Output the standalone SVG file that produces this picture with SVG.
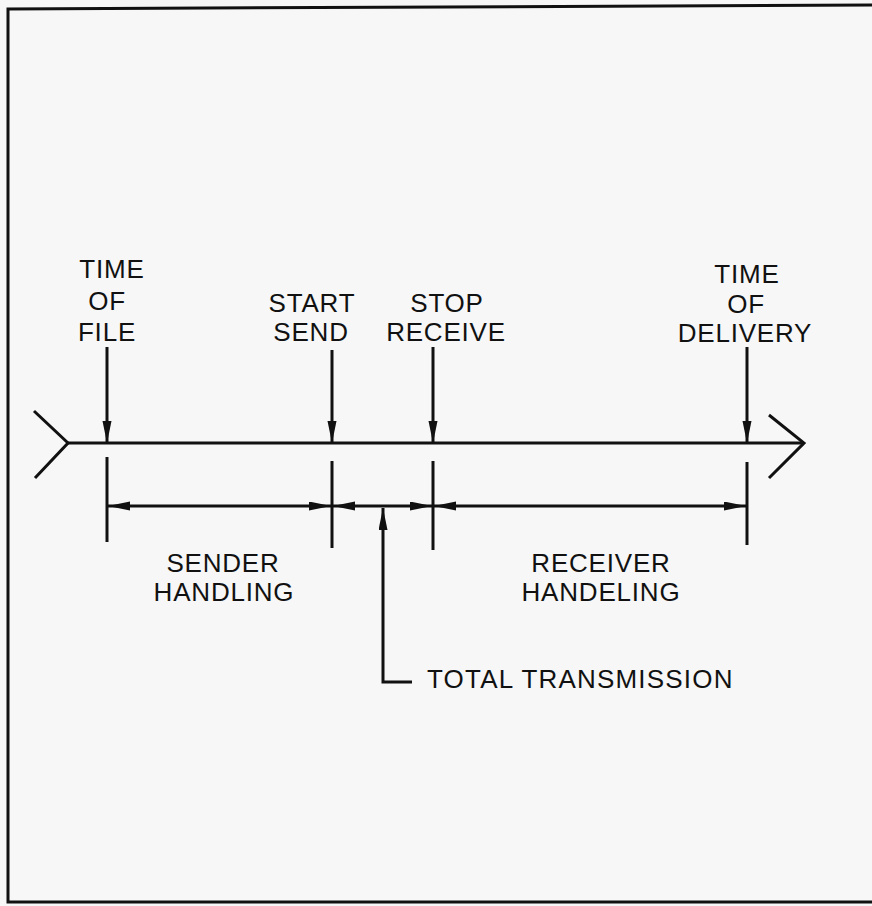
<svg xmlns="http://www.w3.org/2000/svg" width="872" height="906" viewBox="0 0 872 906">
<style>
.ln{stroke:#111;stroke-width:3;fill:none;stroke-linecap:butt}
.lbl{font-family:"Liberation Sans",Arial,sans-serif;font-size:26px;fill:#111;text-anchor:middle;letter-spacing:0.8px}
</style>
<defs>
<marker id="ah" markerUnits="userSpaceOnUse" markerWidth="24" markerHeight="10" refX="22" refY="4.5" orient="auto-start-reverse">
<path d="M0,0 L22,4.5 L0,9 z" fill="#111"/>
</marker>
</defs>
<rect x="0" y="0" width="872" height="906" fill="#f7f7f7"/>
<g id="frame">
<path class="ln" d="M872,5 L8,9 L8,902 L872,902"/>
</g>
<g id="connectors">
<line class="ln" x1="68" y1="443" x2="804" y2="443"/>
<polyline class="ln" points="34,411 68,443 35,478"/>
<polyline class="ln" points="769,415 804,443 769,478"/>
<line class="ln" x1="107" y1="347" x2="107" y2="443" marker-end="url(#ah)"/>
<line class="ln" x1="332" y1="350" x2="332" y2="443" marker-end="url(#ah)"/>
<line class="ln" x1="433" y1="347" x2="433" y2="443" marker-end="url(#ah)"/>
<line class="ln" x1="747" y1="347" x2="747" y2="443" marker-end="url(#ah)"/>
<line class="ln" x1="107" y1="457" x2="107" y2="542"/>
<line class="ln" x1="332" y1="461" x2="332" y2="548"/>
<line class="ln" x1="433" y1="461" x2="433" y2="550"/>
<line class="ln" x1="747" y1="462" x2="747" y2="545"/>
<line class="ln" x1="108" y1="506" x2="331" y2="506" marker-start="url(#ah)" marker-end="url(#ah)"/>
<line class="ln" x1="333" y1="506" x2="432" y2="506" marker-start="url(#ah)" marker-end="url(#ah)"/>
<line class="ln" x1="434" y1="506" x2="746" y2="506" marker-start="url(#ah)" marker-end="url(#ah)"/>
<polyline class="ln" points="412,682 383,682 383,508" marker-end="url(#ah)"/>
</g>
<g id="time-of-file">
<text class="lbl" x="112" y="278">TIME</text>
<text class="lbl" x="107" y="310">OF</text>
<text class="lbl" x="107" y="341">FILE</text>
</g>
<g id="start-send">
<text class="lbl" x="312" y="312">START</text>
<text class="lbl" x="311" y="341">SEND</text>
</g>
<g id="stop-receive">
<text class="lbl" x="447" y="312">STOP</text>
<text class="lbl" x="446" y="341">RECEIVE</text>
</g>
<g id="time-of-delivery">
<text class="lbl" x="747" y="283">TIME</text>
<text class="lbl" x="746" y="313">OF</text>
<text class="lbl" x="745" y="342">DELIVERY</text>
</g>
<g id="sender-handling">
<text class="lbl" x="223" y="572">SENDER</text>
<text class="lbl" x="224" y="601">HANDLING</text>
</g>
<g id="receiver-handeling">
<text class="lbl" x="601" y="572">RECEIVER</text>
<text class="lbl" x="601" y="601">HANDELING</text>
</g>
<g id="total-transmission">
<text class="lbl" x="427" y="688" style="text-anchor:start;letter-spacing:1.2px">TOTAL TRANSMISSION</text>
</g>
</svg>
